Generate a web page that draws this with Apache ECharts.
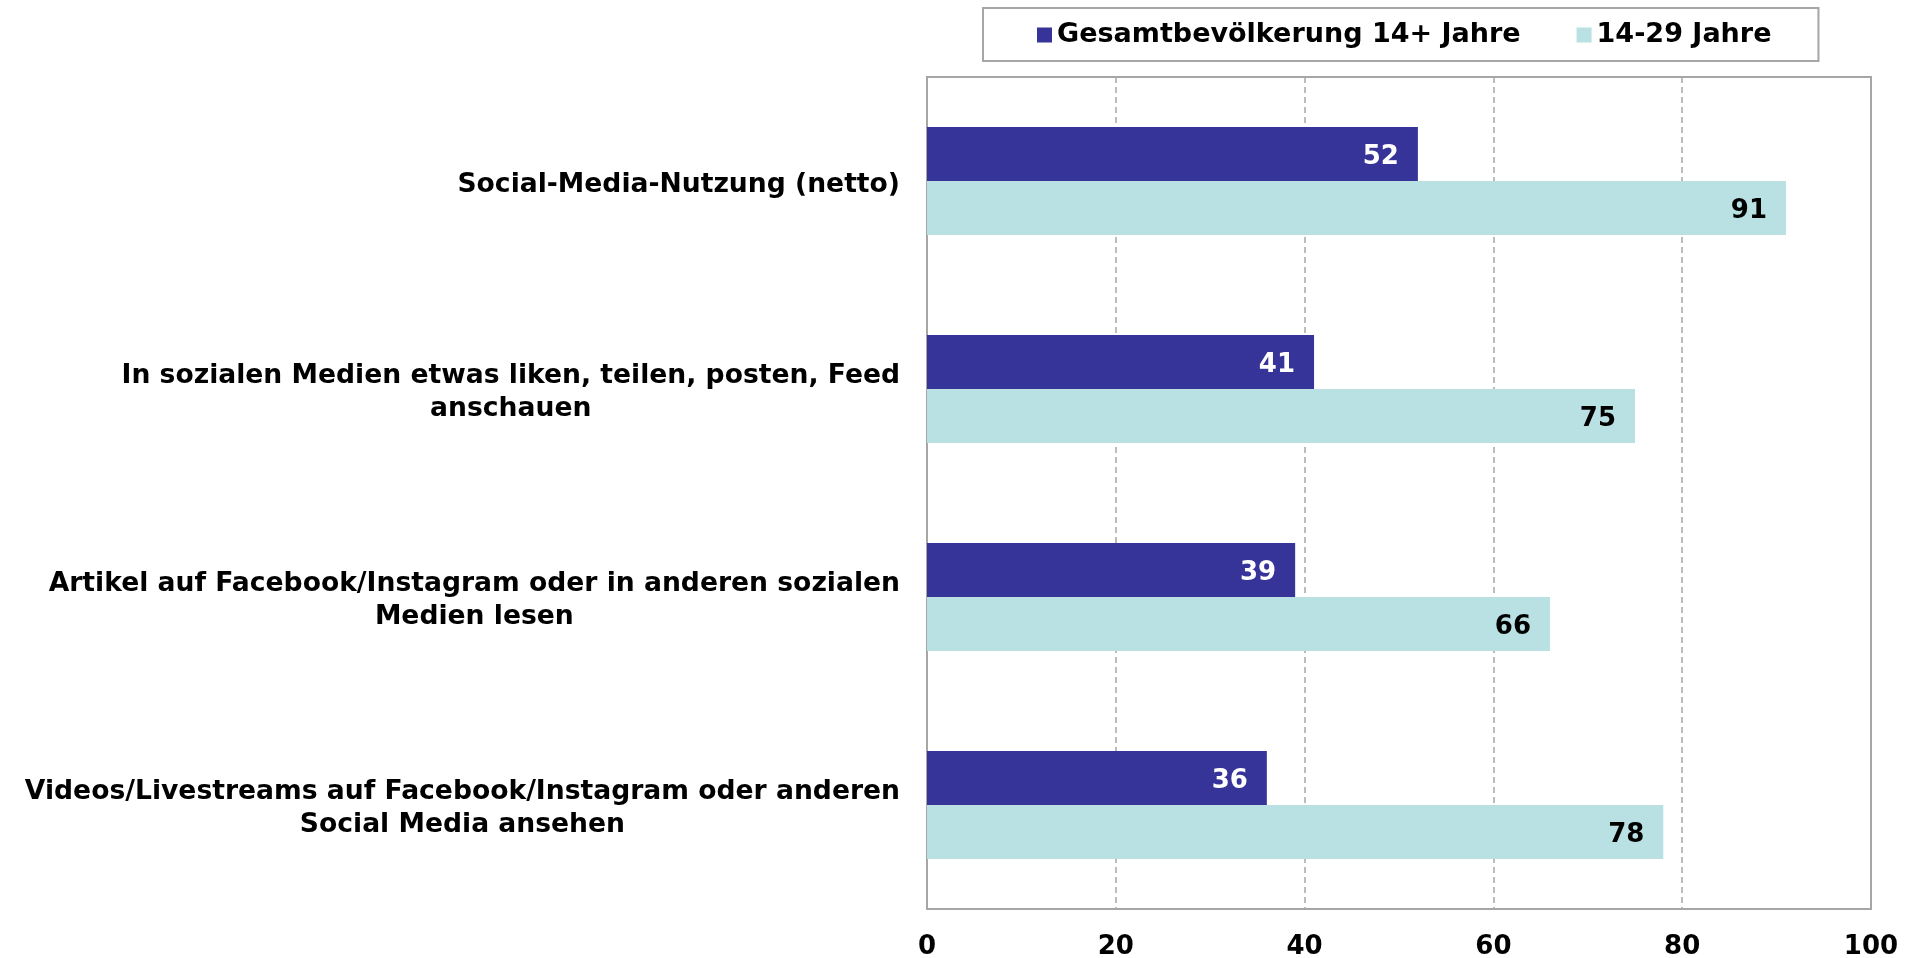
<!DOCTYPE html>
<html>
<head>
<meta charset="utf-8">
<script src="https://cdn.jsdelivr.net/npm/echarts@6/dist/echarts.min.js"></script>
<style>
html,body{margin:0;padding:0;background:#fff;}
#chart{width:1921px;height:958px;}
</style>
</head>
<body>
<div id="chart"></div>
<script>
var categories = [
  "Social-Media-Nutzung (netto)",
  "In sozialen Medien etwas liken, teilen, posten, Feed\nanschauen",
  "Artikel auf Facebook/Instagram oder in anderen sozialen\nMedien lesen",
  "Videos/Livestreams auf Facebook/Instagram oder anderen\nSocial Media ansehen"
];
var seriesNames = ["Gesamtbevölkerung 14+ Jahre", "14-29 Jahre"];
var totalValues = [52, 41, 39, 36];
var youngValues = [91, 75, 66, 78];
var xTicks = [0, 20, 40, 60, 80, 100];

var FONT = '"DejaVu Sans", Verdana, sans-serif';
var chart = echarts.init(document.getElementById('chart'), null, {renderer: 'canvas'});
chart.setOption({
  backgroundColor: '#ffffff',
  animation: false,
  legend: {
    left: 983,
    top: 8,
    padding: [10, 47, 9, 54],
    itemGap: 56,
    itemWidth: 15,
    itemHeight: 15,
    borderColor: '#a6a6a6',
    borderWidth: 2,
    icon: 'rect',
    textStyle: {fontFamily: FONT, fontWeight: 'bold', fontSize: 27, color: '#000', lineHeight: 30, padding: [4, 0, 0, 0]},
    data: seriesNames
  },
  grid: {
    left: 927, right: 50, top: 77, bottom: 49,
    outerBoundsMode: 'none',
    containLabel: false,
    show: true, borderColor: '#a6a6a6', borderWidth: 2, backgroundColor: 'transparent'
  },
  xAxis: {
    type: 'value',
    min: xTicks[0], max: xTicks[xTicks.length - 1], interval: 20,
    axisLine: {show: true, lineStyle: {color: '#a6a6a6', width: 2}},
    axisTick: {show: false},
    splitLine: {show: true, lineStyle: {color: '#a6a6a6', type: [6, 4], width: 1.5}},
    axisLabel: {fontFamily: FONT, fontWeight: 'bold', fontSize: 26, color: '#000', margin: 25}
  },
  yAxis: {
    type: 'category',
    inverse: true,
    data: categories,
    axisLine: {show: true, lineStyle: {color: '#a6a6a6', width: 2}},
    axisTick: {show: false},
    splitLine: {show: false},
    axisLabel: {
      margin: 27,
      align: 'right',
      padding: [8, 0, 0, 0],
      formatter: function (v) {
        return v.split('\n').map(function (l) { return '{a|' + l + '}'; }).join('\n');
      },
      rich: {
        a: {fontFamily: FONT, fontWeight: 'bold', fontSize: 26.6, color: '#000', lineHeight: 33, align: 'center'}
      }
    }
  },
  series: [
    {
      name: seriesNames[0], type: 'bar', data: totalValues,
      barWidth: 54, barGap: '0%',
      itemStyle: {color: '#363399'},
      label: {show: true, position: 'insideRight', distance: 19, offset: [0, 3], color: '#fff',
        fontFamily: FONT, fontWeight: 'bold', fontSize: 26}
    },
    {
      name: seriesNames[1], type: 'bar', data: youngValues,
      barWidth: 54, barGap: '0%',
      itemStyle: {color: '#b9e0e3'},
      label: {show: true, position: 'insideRight', distance: 19, offset: [0, 3], color: '#000',
        fontFamily: FONT, fontWeight: 'bold', fontSize: 26}
    }
  ]
});
</script>
</body>
</html>
